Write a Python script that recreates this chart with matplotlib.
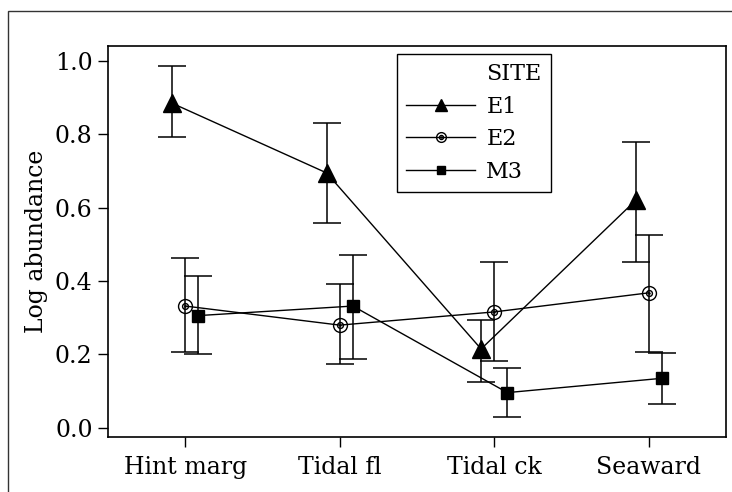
import numpy as np
import matplotlib.pyplot as plt
import matplotlib.path as mpath
from matplotlib.lines import Line2D
from matplotlib.patches import Rectangle

plt.rcParams['font.family'] = ['DejaVu Serif']

# Sites along the transect and the three sampling stations
categories = ['Hint marg', 'Tidal fl', 'Tidal ck', 'Seaward']
series = ['E1', 'E2', 'M3']

# Mean log abundance with lower / upper error limits
e1_mean = [0.885, 0.695, 0.215, 0.620]
e1_low = [0.792, 0.558, 0.125, 0.453]
e1_high = [0.986, 0.830, 0.295, 0.780]

e2_mean = [0.332, 0.280, 0.316, 0.368]
e2_low = [0.207, 0.174, 0.181, 0.207]
e2_high = [0.463, 0.393, 0.452, 0.526]

m3_mean = [0.306, 0.332, 0.096, 0.135]
m3_low = [0.200, 0.188, 0.030, 0.065]
m3_high = [0.414, 0.470, 0.163, 0.204]

# circle-with-dot marker for E2
outer = mpath.Path.unit_circle()
inner = mpath.Path(outer.vertices * 0.42, outer.codes)
dot = mpath.Path(outer.vertices * 0.08, outer.codes)
ring_marker = mpath.Path.make_compound_path(outer, inner, dot)

fig = plt.figure(figsize=(7.32, 4.92), dpi=100)
ax = fig.add_axes([0.1475, 0.1118, 0.8443, 0.7947])

# outer frame around the whole figure
frame = Rectangle((8 / 732, -0.1), 1.2, (492 - 11) / 492 + 0.1, transform=fig.transFigure,
                  fill=False, edgecolor='#333333', linewidth=1.0, clip_on=False)
fig.add_artist(frame)

x = np.arange(len(categories))
offsets = [-0.085, 0.0, 0.085]
styles = [
    dict(marker='^', markersize=13, color='black'),
    dict(marker=ring_marker, markersize=10, color='black', markerfacecolor='none',
         markeredgewidth=1.0),
    dict(marker='s', markersize=8, color='black'),
]
data = [(e1_mean, e1_low, e1_high), (e2_mean, e2_low, e2_high), (m3_mean, m3_low, m3_high)]

handles = [Line2D([], [], linestyle='none', marker=None)]
labels = ['SITE']
for (mean, low, high), off, st, name in zip(data, offsets, styles, series):
    mean = np.array(mean)
    yerr = [mean - np.array(low), np.array(high) - mean]
    ax.errorbar(x + off, mean, yerr=yerr, fmt='none', ecolor='black',
                elinewidth=1.1, capsize=10, capthick=1.1, zorder=2)
    ax.plot(x + off, mean, linestyle='-', linewidth=1.0, zorder=3, **st)
    handles.append(Line2D([], [], linestyle='-', linewidth=1.0, **st))
    labels.append(name)

ax.set_xlim(-0.5, 3.5)
ax.set_ylim(-0.025, 1.041)
ax.set_xticks(x)
ax.set_xticklabels(categories, fontsize=17)
ax.set_yticks(np.arange(0, 1.01, 0.2))
ax.set_yticklabels(['%.1f' % v for v in np.arange(0, 1.01, 0.2)], fontsize=17)
ax.tick_params(axis='both', direction='out', length=7, width=1.0, pad=4)
ax.tick_params(axis='x', pad=7)
ax.set_ylabel('Log abundance', fontsize=17, labelpad=5)
for sp in ax.spines.values():
    sp.set_linewidth(1.2)

leg = ax.legend(handles, labels, loc='upper left',
                bbox_to_anchor=((397 - 108) / 618, (437 - 54) / 391),
                fontsize=16, frameon=True, fancybox=False, framealpha=1,
                edgecolor='black', handlelength=3.1, handletextpad=0.5,
                borderpad=0.42, labelspacing=0.47, markerscale=0.7,
                borderaxespad=0)
leg.get_frame().set_linewidth(1.0)

fig.savefig('out.png', dpi=100)
